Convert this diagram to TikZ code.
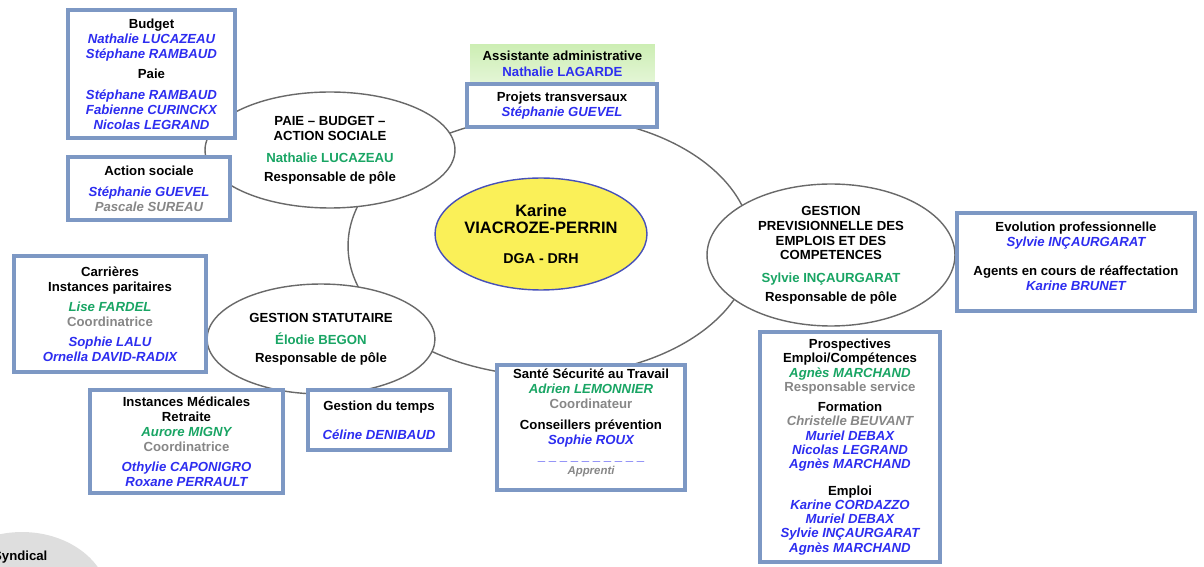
\documentclass[tikz,border=0pt]{standalone}
\usepackage{fontspec}
\setmainfont{Liberation Sans}
\usepackage{tikz}
\usetikzlibrary{shapes.geometric}

\definecolor{boxblue}{RGB}{125,152,196}
\definecolor{ringgray}{RGB}{105,105,105}
\definecolor{nameblue}{RGB}{45,45,240}
\definecolor{namegreen}{RGB}{25,165,100}
\definecolor{softgray}{RGB}{135,135,135}
\definecolor{dgayellow}{RGB}{250,240,88}
\definecolor{dgaborder}{RGB}{70,80,185}
\definecolor{assistgreen}{RGB}{205,238,180}

\newcommand{\nombleu}[1]{\textcolor{nameblue}{\itshape #1}}
\newcommand{\nomvert}[1]{\textcolor{namegreen}{\itshape #1}}
\newcommand{\respvert}[1]{\textcolor{namegreen}{#1}}
\newcommand{\nomgris}[1]{\textcolor{softgray}{#1}}
\newcommand{\grisit}[1]{\textcolor{softgray}{\itshape #1}}

\begin{document}
\begin{tikzpicture}[x=0.02cm, y=-0.02cm, font=\fontsize{7.5}{8.5}\selectfont\bfseries,
	pole/.style={ellipse, draw=ringgray, line width=0.8pt, fill=white, align=center, inner sep=0pt},
	cadre/.style={draw=boxblue, line width=2.2pt, fill=white, align=center, inner sep=0pt}]
	\useasboundingbox (0,0) rectangle (1204,567);
	\node[ellipse, fill=gray!26, minimum width=3.5cm, minimum height=2.8cm] (blob) at (22,602) {};
	\node[anchor=west] (syndical) at (-13,557) {Syndical};
	% anneau et poles
	\node[ellipse, draw=ringgray, line width=0.8pt, minimum width=8.08cm, minimum height=5.2cm] (anneau) at (550,246) {};
	\node[pole, minimum width=5cm, minimum height=2.32cm] (paie) at (330,150) {PAIE – BUDGET –\\ACTION SOCIALE\\[4.5pt]\respvert{Nathalie LUCAZEAU}\\[2pt]Responsable de pôle};
	\node[pole, minimum width=4.56cm, minimum height=2.2cm] (statut) at (321,339) {GESTION STATUTAIRE\\[4.5pt]\respvert{Élodie BEGON}\\[1.5pt]Responsable de pôle};
	\node[pole, minimum width=4.96cm, minimum height=2.84cm] (gpec) at (831,255) {GESTION\\PREVISIONNELLE DES\\EMPLOIS ET DES\\COMPETENCES\\[4.5pt]\respvert{Sylvie INÇAURGARAT}\\[2pt]Responsable de pôle};
	\node[ellipse, draw=dgaborder, line width=0.8pt, fill=dgayellow, minimum width=4.24cm, minimum height=2.24cm] (dga) at (541,234) {};
	\node[align=center, font=\fontsize{9.4}{9.7}\selectfont\bfseries] (dgatexte) at (dga.center) {Karine\\VIACROZE-PERRIN\\[7.5pt]{\fontsize{8.1}{9.7}\selectfont DGA - DRH}};
	% cadres
	\node[cadre, minimum width=3.34cm, minimum height=2.56cm] (budget) at (151.5,74) {Budget\\\nombleu{Nathalie LUCAZEAU}\\\nombleu{Stéphane RAMBAUD}\\[3pt]Paie\\[3.3pt]\nombleu{Stéphane RAMBAUD}\\\nombleu{Fabienne CURINCKX}\\\nombleu{Nicolas LEGRAND}};
	\node[cadre, minimum width=3.24cm, minimum height=1.26cm] (social) at (149,188.5) {Action sociale\\[3.3pt]\nombleu{Stéphanie GUEVEL}\\\grisit{Pascale SUREAU}};
	\node[top color=assistgreen, bottom color=assistgreen!55, minimum width=3.7cm, minimum height=0.74cm, align=center, inner sep=0pt] (assistante) at (562.5,63.5) {Assistante administrative\\[0.6pt]\textcolor{nameblue}{Nathalie LAGARDE}};
	\node[cadre, minimum width=3.8cm, minimum height=0.86cm] (projets) at (562,105.5) {Projets transversaux\\\nombleu{Stéphanie GUEVEL}};
	\node[cadre, minimum width=4.76cm, minimum height=1.96cm] (evolution) at (1076,262) {Evolution professionnelle\\\nombleu{Sylvie INÇAURGARAT}\\[8pt]Agents en cours de réaffectation\\\nombleu{Karine BRUNET}\\[-1.7pt]\mbox{}};
	\node[cadre, minimum width=3.84cm, minimum height=2.32cm] (carrieres) at (110,314) {Carrières\\Instances paritaires\\[2.8pt]\nomvert{Lise FARDEL}\\\nomgris{Coordinatrice}\\[2.8pt]\nombleu{Sophie LALU}\\\nombleu{Ornella DAVID-RADIX}};
	\node[cadre, minimum width=3.86cm, minimum height=2.06cm] (medicales) at (186.5,441.5) {Instances Médicales\\Retraite\\\nomvert{Aurore MIGNY}\\\nomgris{Coordinatrice}\\[2.8pt]\nombleu{Othylie CAPONIGRO}\\\nombleu{Roxane PERRAULT}};
	\node[cadre, minimum width=2.84cm, minimum height=1.2cm] (temps) at (379,420) {Gestion du temps\\[8pt]\nombleu{Céline DENIBAUD}};
	\node[cadre, minimum width=3.76cm, minimum height=2.5cm] (sst) at (591,427.5) {Santé Sécurité au Travail\\\nomvert{Adrien LEMONNIER}\\\nomgris{Coordinateur}\\[3.4pt]Conseillers prévention\\\nombleu{Sophie ROUX}\\[1pt]\textcolor{nameblue}{\_ \_ \_ \_ \_ \_ \_ \_ \_ \_}\\[-1pt]{\fontsize{6.5}{8}\selectfont\grisit{Apprenti}}\\[-1.7pt]\mbox{}};
	\node[cadre, minimum width=3.6cm, minimum height=4.6cm, font=\fontsize{7.5}{8.1}\selectfont\bfseries] (prospectives) at (850,447) {Prospectives\\Emploi/Compétences\\\nomvert{Agnès MARCHAND}\\\nomgris{Responsable service}\\[3.4pt]Formation\\\grisit{Christelle BEUVANT}\\\nombleu{Muriel DEBAX}\\\nombleu{Nicolas LEGRAND}\\\nombleu{Agnès MARCHAND}\\[7pt]Emploi\\\nombleu{Karine CORDAZZO}\\\nombleu{Muriel DEBAX}\\\nombleu{Sylvie INÇAURGARAT}\\\nombleu{Agnès MARCHAND}};
\end{tikzpicture}
\end{document}
